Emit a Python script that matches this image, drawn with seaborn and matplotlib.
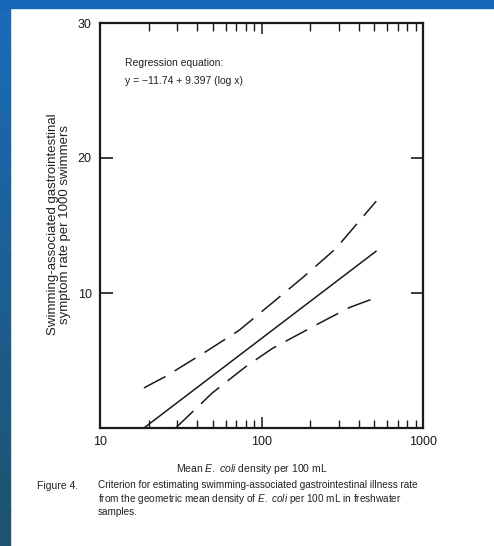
import numpy as np
import pandas as pd
import matplotlib
matplotlib.use("Agg")
import matplotlib.pyplot as plt
import seaborn as sns
from matplotlib.patches import Rectangle
from matplotlib.ticker import LogLocator, NullFormatter, FixedLocator

# ---- data ----
fit_x = [18.7, 513]
fit_y = [0.0, 13.1]
upper_x = [18.7, 25.5, 45, 72.6, 114, 184, 289, 513]
upper_y = [2.97, 3.82, 5.64, 7.23, 9.17, 11.24, 13.3, 16.8]
lower_x = [29.4, 49.6, 80, 117, 223, 351, 513]
lower_y = [0.0, 2.6, 4.55, 5.9, 7.7, 8.93, 9.66]
xtick_vals = [10, 100, 1000]
xtick_labels = ["10", "100", "1000"]
ytick_vals = [10, 20, 30]
ytick_labels = ["10", "20", "30"]

sns.set_style("white")
FAM = ["Liberation Sans", "DejaVu Sans"]
plt.rcParams["font.family"] = FAM
plt.rcParams["mathtext.fontset"] = "custom"
plt.rcParams["mathtext.it"] = "Liberation Sans:italic"
plt.rcParams["mathtext.rm"] = "Liberation Sans"

fig = plt.figure(figsize=(4.94, 5.46), dpi=100)
fig.patch.set_facecolor("white")

# blue scan border (top and left)
n = 30
for i in range(n):
    t = i / n
    c = (0.10 + 0.02 * t, 0.42 - 0.10 * t, 0.72 - 0.30 * t)
    fig.patches.append(Rectangle((0, 1 - (i + 1) / n), 10 / 494, 1 / n + 0.001,
                                 transform=fig.transFigure, color=c, zorder=0))
fig.patches.append(Rectangle((0, 1 - 8 / 546), 1, 8 / 546, transform=fig.transFigure,
                             color="#1666b8", zorder=0))

ax = fig.add_axes([100 / 494, 1 - 428 / 546, 323 / 494, 405 / 546])

df = pd.concat([
    pd.DataFrame({"x": fit_x, "y": fit_y, "line": "fit"}),
    pd.DataFrame({"x": upper_x, "y": upper_y, "line": "upper"}),
    pd.DataFrame({"x": lower_x, "y": lower_y, "line": "lower"}),
])
sns.lineplot(data=df, x="x", y="y", hue="line", style="line",
             palette={"fit": "#1a1a1a", "upper": "#1a1a1a", "lower": "#1a1a1a"},
             dashes={"fit": "", "upper": (16, 7), "lower": (16, 7)},
             linewidth=1.1, legend=False, ax=ax, estimator=None, sort=False)

ax.set_xscale("log")
ax.set_xlim(10, 1000)
ax.set_ylim(0, 30)
ax.set_xlabel("")
ax.set_ylabel("")

for s in ax.spines.values():
    s.set_color("#1a1a1a")
    s.set_linewidth(1.6)

ax.xaxis.set_major_locator(FixedLocator(xtick_vals))
ax.set_xticklabels(xtick_labels)
ax.xaxis.set_minor_locator(LogLocator(base=10, subs=np.arange(2, 10)))
ax.xaxis.set_minor_formatter(NullFormatter())
ax.set_yticks(ytick_vals)
ax.set_yticklabels(ytick_labels)
ax.tick_params(axis="x", which="major", direction="in", length=8, width=1.1,
               top=True, bottom=True, labelsize=9, pad=6, colors="#1a1a1a")
ax.tick_params(axis="x", which="minor", direction="in", length=6, width=1.0,
               top=True, bottom=True, colors="#1a1a1a")
ax.tick_params(axis="y", which="major", direction="in", length=9, width=1.2,
               left=True, right=True, labelsize=9, pad=6, colors="#1a1a1a")

ax.text(0.077, 0.90, "Regression equation:", transform=ax.transAxes,
        fontsize=7.5, va="center", ha="left", color="#222222")
ax.text(0.077, 0.857, "y = \u221211.74 + 9.397 (log x)", transform=ax.transAxes,
        fontsize=7.5, va="center", ha="left", color="#222222")

# axis labels
fig.text(59 / 494, 1 - 224 / 546,
         "Swimming-associated gastrointestinal\nsymptom rate per 1000 swimmers",
         rotation=90, ha="center", va="center", fontsize=9.5, color="#222222",
         linespacing=1.1)
fig.text(252 / 494, 1 - 469 / 546, r"Mean $\it{E.}$ $\it{coli}$ density per 100 mL",
         ha="center", va="center", fontsize=7.5, color="#222222")

# caption
fig.text(37 / 494, 1 - 486 / 546, "Figure 4.", ha="left", va="center",
         fontsize=7.5, color="#222222")
fig.text(98 / 494, 1 - 480 / 546,
         "Criterion for estimating swimming-associated gastrointestinal illness rate\n"
         r"from the geometric mean density of $\it{E.}$ $\it{coli}$ per 100 mL in freshwater" "\n"
         "samples.",
         ha="left", va="top", fontsize=7.2, color="#222222", linespacing=1.15)

fig.savefig("out.png", dpi=100, facecolor="white")
